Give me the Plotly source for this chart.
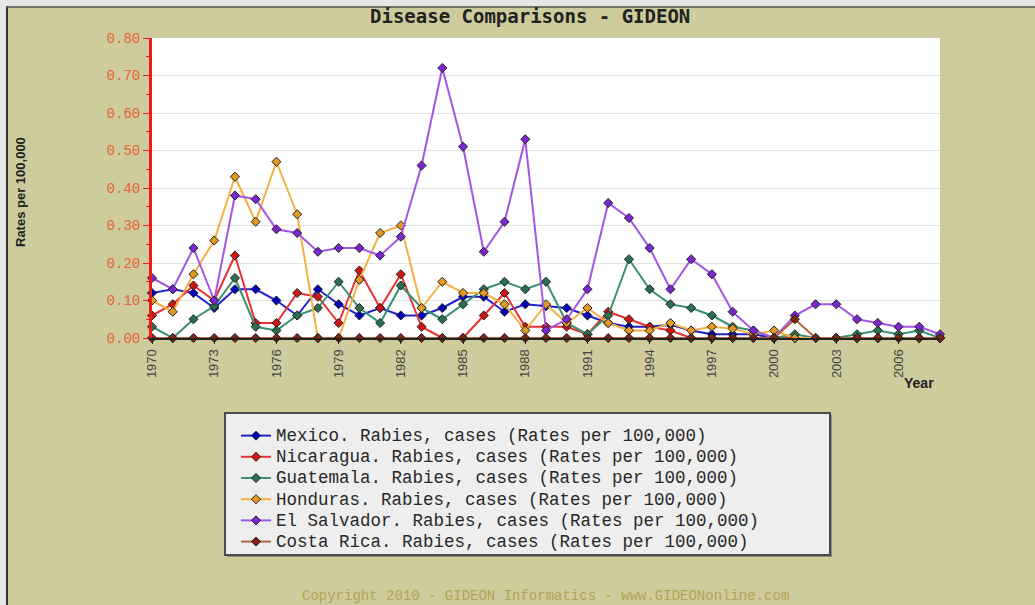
import plotly.graph_objects as go

years = list(range(1970, 2009))

mexico = [0.12, 0.13, 0.12, 0.08, 0.13, 0.13, 0.10, 0.06, 0.13, 0.09,
          0.06, 0.08, 0.06, 0.06, 0.08, 0.11, 0.11, 0.07, 0.09, 0.085,
          0.08, 0.06, 0.04, 0.03, 0.03, 0.035, 0.02, 0.01, 0.01, 0.01,
          0.00, 0.00, 0.00, 0.00, 0.00, 0.00, 0.00, 0.00, 0.00]
nicaragua = [0.06, 0.09, 0.14, 0.10, 0.22, 0.04, 0.04, 0.12, 0.11, 0.04,
             0.18, 0.08, 0.17, 0.03, 0.00, 0.00, 0.06, 0.12, 0.03, 0.03,
             0.03, 0.01, 0.07, 0.05, 0.03, 0.02, 0.00, 0.00, 0.00, 0.00,
             0.00, 0.00, 0.00, 0.00, 0.00, 0.00, 0.00, 0.00, 0.00]
guatemala = [0.03, 0.00, 0.05, 0.085, 0.16, 0.03, 0.02, 0.06, 0.08, 0.15,
             0.08, 0.04, 0.14, 0.08, 0.05, 0.09, 0.13, 0.15, 0.13, 0.15,
             0.04, 0.01, 0.06, 0.21, 0.13, 0.09, 0.08, 0.06, 0.03, 0.02,
             0.00, 0.01, 0.00, 0.00, 0.01, 0.02, 0.01, 0.02, 0.00]
honduras = [0.10, 0.07, 0.17, 0.26, 0.43, 0.31, 0.47, 0.33, 0.00, 0.00,
            0.155, 0.28, 0.30, 0.08, 0.15, 0.12, 0.12, 0.09, 0.02, 0.09,
            0.04, 0.08, 0.04, 0.02, 0.02, 0.04, 0.02, 0.03, 0.025, 0.01,
            0.02, 0.00, 0.00, 0.00, 0.00, 0.00, 0.00, 0.00, 0.00]
el_salvador = [0.16, 0.13, 0.24, 0.10, 0.38, 0.37, 0.29, 0.28, 0.23, 0.24,
               0.24, 0.22, 0.27, 0.46, 0.72, 0.51, 0.23, 0.31, 0.53, 0.02,
               0.05, 0.13, 0.36, 0.32, 0.24, 0.13, 0.21, 0.17, 0.07, 0.02,
               0.00, 0.06, 0.09, 0.09, 0.05, 0.04, 0.03, 0.03, 0.01]
costa_rica = [0.00, 0.00, 0.00, 0.00, 0.00, 0.00, 0.00, 0.00, 0.00, 0.00,
              0.00, 0.00, 0.00, 0.00, 0.00, 0.00, 0.00, 0.00, 0.00, 0.00,
              0.00, 0.00, 0.00, 0.00, 0.00, 0.00, 0.00, 0.00, 0.00, 0.00,
              0.00, 0.05, 0.00, 0.00, 0.00, 0.00, 0.00, 0.00, 0.00]

series_names = [
    "Mexico. Rabies, cases (Rates per 100,000)",
    "Nicaragua. Rabies, cases (Rates per 100,000)",
    "Guatemala. Rabies, cases (Rates per 100,000)",
    "Honduras. Rabies, cases (Rates per 100,000)",
    "El Salvador. Rabies, cases (Rates per 100,000)",
    "Costa Rica. Rabies, cases (Rates per 100,000)",
]
series_values = [mexico, nicaragua, guatemala, honduras, el_salvador, costa_rica]
line_colors = ["#2020d0", "#e83030", "#3a9070", "#f5b040", "#a455e8", "#b8603a"]
marker_colors = ["#0000b8", "#d01515", "#2a7050", "#e09a20", "#7d25d0", "#802510"]

x_ticks = list(range(1970, 2008, 3))
y_ticks = [i / 10 for i in range(0, 9)]

# layout geometry (pixels)
W, H = 1035, 605
L, R, T, B = 152, 95, 38, 267
PW, PH = W - L - R, H - T - B


def px_x(px):
    return (px - L) / PW


def px_y(py):
    return 1 - (py - T) / PH


fig = go.Figure()
for name, vals, lc, mc in zip(series_names, series_values, line_colors, marker_colors):
    fig.add_trace(go.Scatter(
        x=years, y=vals,
        name='<span style="font-size:17.5px">' + name + '</span>',
        mode="lines+markers",
        line=dict(color=lc, width=2),
        marker=dict(symbol="diamond", size=7, color=mc, line=dict(color="#222222", width=1)),
        cliponaxis=False,
    ))

tan = "#cecb9c"
shapes = [
    # legend box
    dict(type="rect", xref="paper", yref="paper",
         x0=px_x(227), x1=px_x(832), y0=px_y(557), y1=px_y(415),
         fillcolor="#8a8a80", line=dict(width=0), layer="below"),
    dict(type="rect", xref="paper", yref="paper",
         x0=px_x(225), x1=px_x(830), y0=px_y(555), y1=px_y(413),
         fillcolor="#eeeeee", line=dict(color="#4a4a4a", width=2), layer="below"),
    # outer margins / border
    dict(type="rect", xref="paper", yref="paper",
         x0=px_x(0), x1=px_x(6), y0=px_y(605), y1=px_y(0),
         fillcolor="#e6e6e6", line=dict(width=0), layer="below"),
    dict(type="rect", xref="paper", yref="paper",
         x0=px_x(0), x1=px_x(1035), y0=px_y(6), y1=px_y(0),
         fillcolor="#e6e6e6", line=dict(width=0), layer="below"),
    dict(type="line", xref="paper", yref="paper",
         x0=px_x(7), x1=px_x(7), y0=px_y(605), y1=px_y(6),
         line=dict(color="#333333", width=2), layer="below"),
    dict(type="line", xref="paper", yref="paper",
         x0=px_x(6), x1=px_x(1035), y0=px_y(7), y1=px_y(7),
         line=dict(color="#555555", width=1.5), layer="below"),
]

annotations = [
    dict(text="<b>Disease Comparisons - GIDEON</b>", xref="paper", yref="paper",
         x=px_x(530), y=px_y(16), xanchor="center", yanchor="middle", showarrow=False,
         font=dict(family="DejaVu Sans Mono", size=19, color="#222222")),
    dict(text="<b>Rates per 100,000</b>", xref="paper", yref="paper",
         x=px_x(20), y=px_y(192), xanchor="center", yanchor="middle", showarrow=False,
         textangle=-90,
         font=dict(family="Liberation Sans", size=13, color="#222222")),
    dict(text="<b>Year</b>", xref="paper", yref="paper",
         x=px_x(936), y=px_y(383), xanchor="right", yanchor="middle", showarrow=False,
         font=dict(family="Liberation Sans", size=14, color="#222222")),
    dict(text="Copyright 2010 - GIDEON Informatics - www.GIDEONonline.com",
         xref="paper", yref="paper", x=px_x(545), y=px_y(596),
         xanchor="center", yanchor="middle", showarrow=False,
         font=dict(family="Liberation Mono", size=14, color="#b0a456")),
]

fig.update_layout(
    width=W, height=H,
    margin=dict(l=L, r=R, t=T, b=B, pad=0),
    paper_bgcolor=tan, plot_bgcolor="white",
    showlegend=True,
    legend=dict(
        x=px_x(236), y=px_y(420), xanchor="left", yanchor="top",
        bgcolor="rgba(0,0,0,0)", borderwidth=0,
        font=dict(family="Liberation Mono", size=14, color="#282828"),
        itemwidth=30, tracegroupgap=0,
    ),
    shapes=shapes,
    annotations=annotations,
    xaxis=dict(
        range=[1970, 2008], tickvals=x_ticks, ticktext=[str(v) for v in x_ticks],
        tickangle=-90, ticks="outside", ticklen=4, tickcolor="#222222",
        showline=True, linecolor="#222222", linewidth=2, showgrid=False, zeroline=False,
        tickfont=dict(family="Liberation Sans", size=13, color="#444444"),
    ),
    yaxis=dict(
        range=[0, 0.8], tickvals=y_ticks, tickformat=".2f",
        ticks="outside", ticklen=6, tickcolor="#ee2222", tickwidth=1,
        minor=dict(dtick=0.05, ticks="outside", ticklen=3, tickcolor="#ee2222", showgrid=False),
        showline=True, linecolor="#ee1a1a", linewidth=3,
        gridcolor="#e4e4e4", gridwidth=1, zeroline=False,
        tickfont=dict(family="Liberation Mono", size=14, color="#e2643c"),
    ),
)

fig.write_html(
    "out.html",
    config={"displayModeBar": False},
    post_script="document.body.style.margin='0px';document.body.style.overflow='hidden';",
)
